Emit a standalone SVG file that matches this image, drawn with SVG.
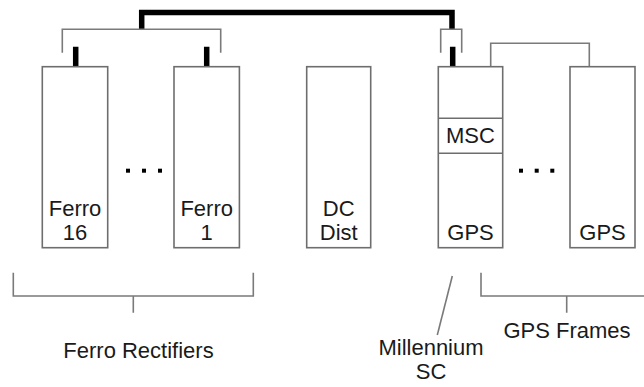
<svg xmlns="http://www.w3.org/2000/svg" width="644" height="387" viewBox="0 0 644 387">
<style>
.box{fill:#fff;stroke:#6e6e6e;stroke-width:1.6}
.thin{fill:none;stroke:#7a7a7a;stroke-width:1.6}
.thick{fill:none;stroke:#000;stroke-width:5.5}
.t{font-family:"Liberation Sans",Arial,sans-serif;font-size:22px;fill:#1a1a1a;text-anchor:middle}
.dot{fill:#000}
</style>
<rect width="644" height="387" fill="#fff"/>
<g id="connectors">
<path class="thick" d="M141.7 29 V12.5 H452 V29"/>
<path class="thin" d="M62.3 52.7 V29.3 H220.7 V52.7"/>
<path class="thin" d="M440.7 52.7 V29.3 H461.7 V52.7"/>
<path class="thick" d="M75.7 46.7 V66.7 M206.7 46.7 V66.7 M452.7 46.7 V66.7"/>
<path class="thin" d="M490.7 66.7 V43.3 H589.3 V66.7"/>
</g>
<g id="ferro16"><rect class="box" x="42.3" y="66.7" width="65.4" height="181"/><text class="t" x="75" y="215.7">Ferro</text><text class="t" x="75" y="240">16</text></g>
<g id="dots1"><rect class="dot" x="126" y="168.7" width="4" height="4"/><rect class="dot" x="142" y="168.7" width="4" height="4"/><rect class="dot" x="158" y="168.7" width="4" height="4"/></g>
<g id="ferro1"><rect class="box" x="174" y="66.7" width="65.4" height="181"/><text class="t" x="206.7" y="215.7">Ferro</text><text class="t" x="206.7" y="240">1</text></g>
<g id="dcdist"><rect class="box" x="306.7" y="66.7" width="64" height="181"/><text class="t" x="338.7" y="215.7">DC</text><text class="t" x="338.7" y="240">Dist</text></g>
<g id="msc-gps"><rect class="box" x="438.3" y="66.7" width="64.4" height="181"/><line class="box" x1="438.3" y1="118.3" x2="502.7" y2="118.3"/><line class="box" x1="438.3" y1="153.3" x2="502.7" y2="153.3"/><text class="t" x="470.5" y="143.3">MSC</text><text class="t" x="470.5" y="240">GPS</text></g>
<g id="dots2"><rect class="dot" x="519" y="168.7" width="4" height="4"/><rect class="dot" x="534.7" y="168.7" width="4" height="4"/><rect class="dot" x="550.3" y="168.7" width="4" height="4"/></g>
<g id="gps-n"><rect class="box" x="570" y="66.7" width="65" height="181"/><text class="t" x="602.5" y="240">GPS</text></g>
<g id="ferro-rectifiers"><path class="thin" d="M13.3 272.7 V296 H253.3 V272.7 M133.3 296 V312.7"/><text class="t" x="138.5" y="358.3">Ferro Rectifiers</text></g>
<g id="millennium-sc"><line class="thin" x1="452.3" y1="276" x2="437.3" y2="335"/><text class="t" x="431" y="355">Millennium</text><text class="t" x="431" y="379.3">SC</text></g>
<g id="gps-frames"><path class="thin" d="M481 272.7 V296 H646 M566.7 296 V312.7"/><text class="t" x="567" y="338.3">GPS Frames</text></g>
</svg>
